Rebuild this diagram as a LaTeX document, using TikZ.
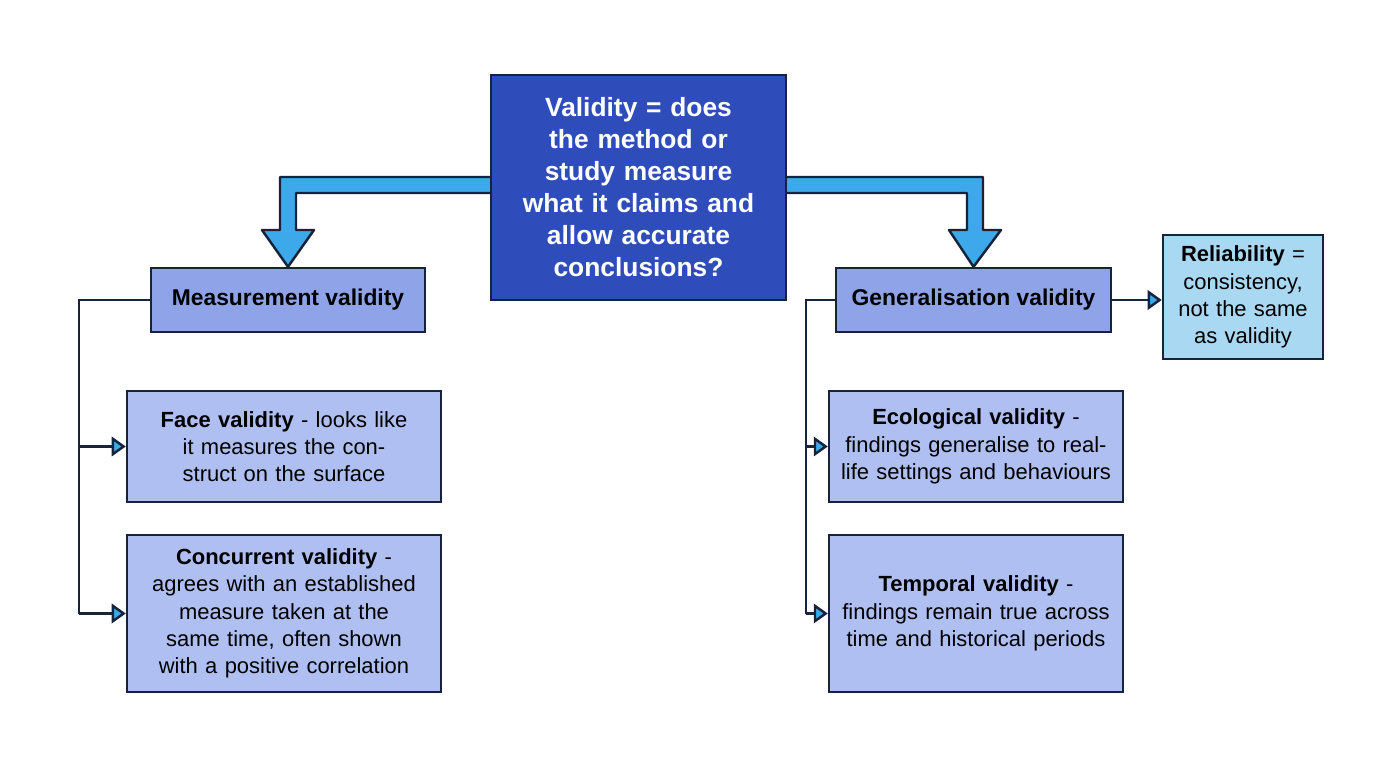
\documentclass[tikz,border=0pt]{standalone}
\usepackage{fontspec}
\setmainfont{Liberation Sans}
\usetikzlibrary{positioning,arrows.meta}
\definecolor{navy}{HTML}{17223B}
\definecolor{topblue}{HTML}{2F4DBA}
\definecolor{midblue}{HTML}{8FA3E8}
\definecolor{lightblue}{HTML}{AFBFF1}
\definecolor{reliblue}{HTML}{A9D9F2}
\definecolor{arrowblue}{HTML}{3DA9EA}
\tikzset{
  box/.style={draw=navy, line width=1.4pt, align=center, inner sep=2pt, font=\fontsize{12.5}{15.5}\selectfont},
  head/.style={box, fill=midblue, font=\fontsize{13}{16}\selectfont\bfseries},
  leaf/.style={box, fill=lightblue},
  branch/.style={draw=navy, line width=1.4pt, -{Triangle[length=8pt,width=11pt,fill=arrowblue]}},
  bigarrow/.style={draw=navy, line width=1.4pt, fill=arrowblue, line join=round}
}
\begin{document}
\begin{tikzpicture}[x=0.02cm,y=-0.02cm]
  \useasboundingbox (0,0) rectangle (1376,768);
  % main question
  \node[box, fill=topblue, text=white, minimum width=5.9cm, minimum height=4.5cm, text width=5.4cm,
        font=\fontsize{15}{18.2}\selectfont\bfseries] (valid) at (638.5,187.5)
    {Validity = does the method or study measure what it claims and allow accurate conclusions?};
  % two branches
  \node[head, minimum width=5.48cm, minimum height=1.28cm] (meas) at (288,300) {Measurement validity};
  \node[head, minimum width=5.5cm, minimum height=1.28cm] (gen) at (973.5,300) {Generalisation validity};
  \node[box, fill=reliblue, minimum width=3.2cm, minimum height=2.48cm, text width=2.9cm] (reli) at (1243,297)
    {\textbf{Reliability} = consistency, not the same as validity};
  % leaves
  \node[leaf, minimum width=6.28cm, minimum height=2.22cm, text width=5.9cm] (face) at (284,446.5)
    {\textbf{Face validity} - looks like it measures the construct on the surface};
  \node[leaf, minimum width=6.28cm, minimum height=3.14cm, text width=5.9cm] (conc) at (284,613.5)
    {\textbf{Concurrent validity} - agrees with an established measure taken at the same time, often shown with a positive correlation};
  \node[leaf, minimum width=5.88cm, minimum height=2.22cm, text width=5.6cm] (eco) at (976,446.5)
    {\textbf{Ecological validity} -\\ findings generalise to real-\\life settings and behaviours};
  \node[leaf, minimum width=5.88cm, minimum height=3.14cm, text width=5.6cm] (temp) at (976,613.5)
    {\textbf{Temporal validity} -\\ findings remain true across time and historical periods};
  % big arrows
  \draw[bigarrow] (valid.west |- 0,177) -- (280,177) -- (280,230) -- (262,230) -- (meas.north)
    -- (314,230) -- (296,230) -- (296,193) -- (valid.west |- 0,193);
  \draw[bigarrow] (valid.east |- 0,177) -- (983,177) -- (983,230) -- (1001,230) -- (gen.north)
    -- (949,230) -- (949,230) -- (967,230) -- (967,193) -- (valid.east |- 0,193);
  % brackets
  \coordinate (lbar) at (79,300);
  \coordinate (rbar) at (806,300);
  \draw[draw=navy, line width=1.4pt] (meas.west) -- (lbar) -- (lbar |- conc.west);
  \draw[branch] (lbar |- face.west) -- (face.west);
  \draw[branch] (lbar |- conc.west) -- (conc.west);
  \draw[draw=navy, line width=1.4pt] (gen.west) -- (rbar) -- (rbar |- temp.west);
  \draw[branch] (rbar |- eco.west) -- (eco.west);
  \draw[branch] (rbar |- temp.west) -- (temp.west);
  \draw[branch] (gen.east) -- (gen.east -| reli.west);
\end{tikzpicture}
\end{document}
